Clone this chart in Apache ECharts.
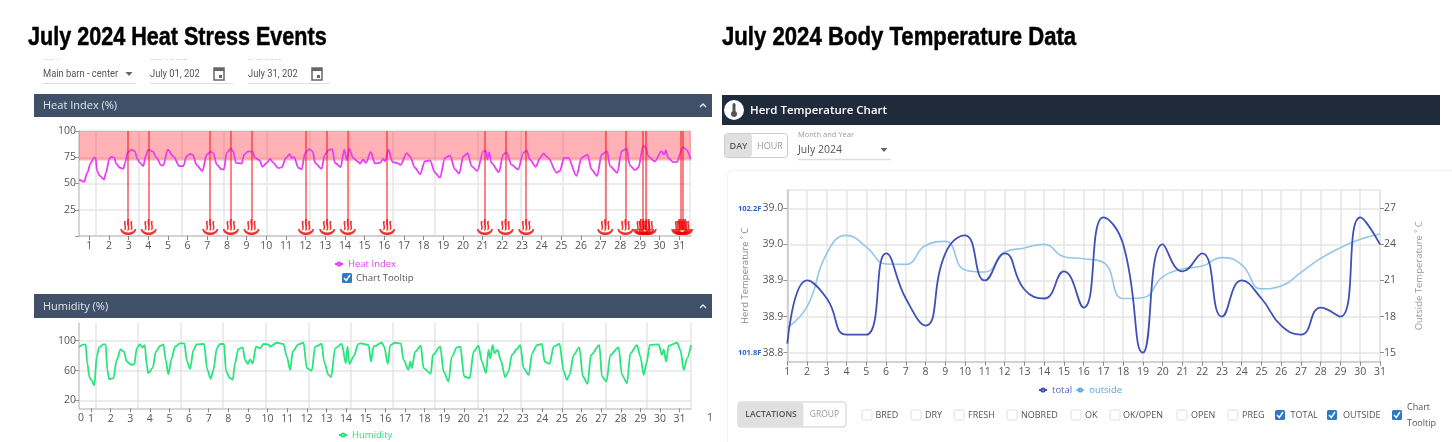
<!DOCTYPE html>
<html><head><meta charset="utf-8">
<style>html,body{margin:0;padding:0;background:#fff}#c{width:1452px;height:442px}</style>
<script src="https://cdn.jsdelivr.net/npm/echarts@6/dist/echarts.min.js"></script>
</head><body><div id="c"></div>
<script>
const dayTicks = Array.from({length:31},(_,i)=>i+1);
const heatDays = [0.48,0.73,0.90,1.07,1.24,1.32,1.39,1.54,1.75,1.85,2.02,2.14,2.27,2.36,2.56,2.73,2.82,2.95,3.15,3.32,3.44,3.58,3.75,3.86,4.0,4.22,4.43,4.65,4.76,4.99,5.27,5.58,5.78,5.95,6.12,6.26,6.46,6.75,6.97,7.17,7.31,7.48,7.73,7.85,7.98,8.2,8.32,8.46,8.75,8.87,9.08,9.29,9.43,9.65,9.81,10.02,10.19,10.36,10.61,10.78,11.0,11.2,11.29,11.41,11.63,11.8,11.97,12.19,12.36,12.48,12.81,12.98,13.15,13.36,13.49,13.78,13.97,14.09,14.22,14.42,14.68,14.76,14.93,15.07,15.31,15.53,15.78,15.95,16.04,16.21,16.43,16.63,16.83,17.14,17.31,17.56,17.82,18.07,18.33,18.58,18.83,19.09,19.34,19.6,19.81,20.02,20.24,20.44,20.73,21.03,21.17,21.25,21.34,21.45,21.83,22.05,22.22,22.47,22.81,23.07,23.24,23.41,23.71,23.92,24.09,24.34,24.76,24.93,25.14,25.36,25.78,26.03,26.34,26.54,26.83,27.05,27.34,27.48,27.85,28.07,28.33,28.49,28.75,28.92,29.17,29.31,29.43,29.76,30.1,30.22,30.32,30.44,30.69,30.86,31.2,31.34,31.58];
const heatValues = [53.8,51.6,60.3,69.7,74.4,74.7,61.9,57.2,53.8,60.3,73.8,75.3,74.7,69,65,64,69.7,79.7,82.2,80.6,73.4,69.7,66.6,76,82.2,80.6,74.4,67.5,67.2,82.2,76,66.6,66.6,76,78,77.5,67.5,61.9,77.5,80.3,79,68,63.4,63.4,79,83.4,80.6,69.7,69,77.5,80.6,80.3,74.4,72.2,66,69.7,73.4,69.7,64.7,65.3,74.4,78,74.4,75.3,65,63.4,79,82.8,80.6,69.7,64,77.5,81.6,82.8,69.7,65.6,82.2,72.2,83.4,74.4,70.6,69,72.8,69.7,80,69,69.7,73.4,71.2,82.2,70.3,69.7,67.8,79,75.9,65,59,71.2,71.9,60.3,55.6,74.4,76.6,63.4,59.4,75.9,78.8,66.6,61.9,80.6,81.2,72.8,79.7,69.7,60.9,77.5,79.7,68,63.4,79,81.6,72.8,65.9,74.4,78.4,74.4,60.3,61.9,74.4,74.4,57.2,74.4,77.5,63.4,57.2,77.5,80.6,66.6,60.3,80.6,83.1,67.2,62.8,65,85.9,83.8,75.9,71.2,80.6,77.5,81.6,74.4,70.3,70.3,84.7,82.8,73.4];
const heatEventDays = [2.98,4.02,7.15,8.2,9.25,12.02,13.10,14.15,16.15,21.12,22.17,23.22,27.24,28.27,29.16,29.32,31.09,31.2];
const heatExtraFlames = [29.05,29.45,31.0,31.3];
const heatVerticals = [1.34,3.49,5.69,7.84,10.02,12.19,14.26,16.43,18.58,20.73,22.92,25.1,27.22,29.34,31.55];
const heatBand = [72,100];
const heatTicks = [0,25,50,75,100];

const humidDays = [0.39,0.52,0.73,0.81,0.92,1.03,1.17,1.29,1.42,1.63,1.75,1.83,1.93,2.14,2.31,2.51,2.68,2.82,3.07,3.21,3.33,3.5,3.62,3.74,3.84,3.92,4.14,4.31,4.52,4.69,4.81,4.94,5.11,5.28,5.54,5.76,5.88,6.05,6.22,6.39,6.76,6.93,7.1,7.24,7.41,7.58,7.78,7.88,8.09,8.22,8.34,8.51,8.73,8.85,8.99,9.11,9.24,9.41,9.62,9.79,10.04,10.13,10.47,10.81,10.98,11.15,11.28,11.57,11.83,12.0,12.25,12.42,12.76,12.88,13.1,13.24,13.44,13.78,13.99,14.07,14.17,14.38,14.63,14.72,15.15,15.27,15.4,15.82,15.94,16.13,16.25,16.5,16.79,16.93,17.18,17.27,17.35,17.52,17.81,17.95,18.32,18.42,18.8,18.97,19.22,19.39,19.65,19.82,20.02,20.3,20.5,20.75,20.92,21.13,21.26,21.35,21.47,21.57,21.72,21.89,22.11,22.28,22.45,22.71,22.88,23.05,23.31,23.48,23.73,23.98,24.12,24.37,24.58,24.88,25.09,25.26,25.39,25.6,25.89,26.07,26.31,26.48,26.91,27.04,27.27,27.47,27.89,28.06,28.32,28.49,28.83,29.0,29.17,29.31,29.48,29.93,30.1,30.19,30.31,30.44,30.87,31.04,31.21,31.38,31.58];
const humidValues = [91.1,94.2,95.1,69.8,51.1,46.7,40,78.7,91.1,95.1,95.1,60.9,48.4,49.8,74.2,88.4,85.3,72,67.6,68.9,89.8,95.1,91.1,94.2,67.6,56.4,63.1,85.3,92.9,95.1,74.2,55.1,76.4,92,96.4,96.4,73.3,62.2,87.6,95.1,95.6,60.9,48.9,60.9,89.8,95.6,95.6,58.7,49.8,47.6,69.8,88.9,91.1,74.2,68.9,75.1,69.8,92,89.8,95.6,95.1,92,97.3,95.6,78.7,60.9,85.3,95.1,97.3,63.1,59.6,92,95.6,72,54.2,51.1,89.8,95.6,69.8,92,68.9,78.7,95.6,96.4,94.2,72,92,97.3,92,68.9,94.2,97.3,96.4,74.2,60.9,72,63.1,85.3,93.3,63.1,55.6,80.9,92,58.7,45.3,78.7,91.1,92,52,49.8,85.3,93.3,72,56.4,87.6,76.4,94.2,83.1,87.6,73.3,51.1,58.7,80.9,88.9,94.2,63.1,54.2,83.1,94.2,95.6,72,68.9,92,95.6,58.7,47.6,54.2,80.9,91.1,52,42.2,80.9,94.2,52,45.3,80.9,91.1,54.2,43.1,83.1,94.2,78.7,54.2,69.8,94.2,95.1,80.9,88.4,72,93.3,97.3,87.6,60.9,76.4,94.2];
const humidVerticals = [1.24,3.36,5.56,7.71,9.92,12.08,14.24,16.37,18.54,20.70,22.89,25.05,27.21,29.34,31.55];
const humidTicks = [20,60,100];

const herdTotal = [38.8125,38.9,38.875,38.825,38.825,38.9375,38.875,38.8375,38.9375,38.9625,38.9,38.9375,38.8875,38.875,38.9125,38.8625,38.9875,38.95,38.8,38.95,38.9125,38.9375,38.85,38.9,38.875,38.8375,38.825,38.8625,38.85,38.9875,38.95];
const herdOutside = [17.08,18.82,23.25,24.75,23.8,22.37,22.34,23.9,24.25,21.87,21.7,23.34,23.7,24.0,22.98,22.8,22.5,19.5,19.57,21.3,21.95,22.2,22.9,22.3,20.3,20.54,21.68,22.84,23.73,24.42,24.86];
const herdLeftTicks = [38.8,38.85,38.9,38.95,39.0];
const herdLeftLabels = ['38.8','38.9','38.9','39.0','39.0'];
const herdRightTicks = [15,18,21,24,27];

const FONT = '"Open Sans"';
const GRID = '#e6e6e6', AXIS = '#c9c9c9', LABEL = '#555';
const FLAME = 'path://M0 15C1 27 23 27 24 15L21.6 15C20 21.8 4 21.8 2.4 15ZM6.2 3C4 7.5 8 10 5.8 17L8.3 15.5C10 10.5 6.8 8 8.6 3ZM11 0C8.6 6 12.8 10 10.6 18L13.2 16.5C15 10.5 11.6 6 13.6 0ZM15.8 3C13.6 7.5 17.6 10 15.4 17L17.9 15.5C19.6 10.5 16.4 8 18.2 3Z';

const zip = (a,b)=>a.map((v,i)=>[v,b[i]]);
const dayAxisLabel = {fontFamily:FONT,fontSize:10.5,color:LABEL,margin:5};

function dayAxis(gridIndex,min,max){
  return {type:'value',gridIndex,min,max,position:'bottom',
    axisLine:{show:true,onZero:false,lineStyle:{color:AXIS,width:1.5}},
    axisTick:{show:true,length:4,customValues:dayTicks,lineStyle:{color:'#888'}},
    axisLabel:Object.assign({customValues:dayTicks,formatter:v=>String(v)},dayAxisLabel),
    splitLine:{show:false}};
}
function verticalAxis(gridIndex,min,max,vals){
  return {type:'value',gridIndex,min,max,position:'bottom',
    axisLine:{show:false},axisLabel:{show:false},
    axisTick:{show:false,customValues:vals},
    splitLine:{show:true,lineStyle:{color:GRID,width:1.5}}};
}
const yCommon = {
  axisLine:{show:true,onZero:false,lineStyle:{color:AXIS,width:1.5}},
  axisTick:{show:true,length:4,lineStyle:{color:'#999'}},
  splitLine:{show:true,lineStyle:{color:GRID,width:1.5}}
};

/* ---------- page furniture (not chart marks) ---------- */
const g = [];
const txt = (x,y,s,o={})=>g.push({type:'text',x,y,z:o.z||20,silent:true,scaleX:o.sx||1,style:{text:s,fill:o.c||'#555',stroke:o.st||null,lineWidth:o.st?0.5:0,font:`${o.w||'normal'} ${o.s||11}px ${o.f||FONT}`,textAlign:o.a||'left',textVerticalAlign:'middle'}});
const rect = (x,y,w,h,fill,o={})=>g.push({type:'rect',z:o.z===undefined?10:o.z,silent:true,shape:{x,y,width:w,height:h,r:o.r||0},style:{fill,stroke:o.stroke||null,lineWidth:o.lw||1}});
const line = (a,b,c,d,col,lw=1)=>g.push({type:'line',z:10,silent:true,shape:{x1:a,y1:b,x2:c,y2:d},style:{stroke:col,lineWidth:lw}});
const poly = (pts,col,lw=1.3,z=21)=>g.push({type:'polyline',z,silent:true,shape:{points:pts},style:{stroke:col,lineWidth:lw,fill:null}});
const tri = (x,y,col='#666')=>g.push({type:'polygon',z:20,silent:true,shape:{points:[[x-3.5,y-2],[x+3.5,y-2],[x,y+2]]},style:{fill:col}});
const chevron = (x,y)=>poly([[x-3,y+2],[x,y-1],[x+3,y+2]],'#e8edf3',1.3);
const cal = (x,y)=>{rect(x,y-6,10,12,'#fff',{stroke:'#666',lw:1.5,z:20});rect(x,y-6,10,3,'#666',{z:21});rect(x+5,y+1,3,3,'#666',{z:21});};
const check = (x,y,on,size=10)=>{
  if(on){rect(x,y-size/2,size,size,'#2f78c4',{r:1.5,z:20});poly([[x+2,y],[x+4.3,y+2.5],[x+8,y-3]],'#fff',1.4);}
  else rect(x,y-size/2,size,size,'#fff',{stroke:'#dbe0e6',r:1.5,z:20});
};

const TITLE = {w:'bold',s:26,c:'#000',f:'"Liberation Sans"',st:'#000'};
txt(28,38,'July 2024 Heat Stress Events',Object.assign({sx:0.83},TITLE));
txt(722,38,'July 2024 Body Temperature Data',Object.assign({sx:0.852},TITLE));

txt(43,58,'Barn',{s:8,c:'#888'});txt(150,58,'Start Date',{s:8,c:'#888'});txt(248,58,'End Date',{s:8,c:'#888'});
rect(30,50,320,9.5,'#fff',{z:22});
const R = {s:10.5,f:'Roboto',sx:0.89};
txt(43,74,'Main barn - center',R);tri(129,74);
txt(150,74,'July 01, 202',R);cal(214,74);
txt(248,74,'July 31, 202',R);cal(312,74);
line(43,83.5,136,83.5,'#ddd');line(150,83.5,233,83.5,'#ddd');line(248,83.5,330,83.5,'#ddd');

rect(34,94,678,23,'#3f5068');txt(43,106,'Heat Index (%)',{c:'#dfe5ec',s:11});chevron(703,105);
rect(34,294,678,24,'#3f5068');txt(43,307,'Humidity (%)',{c:'#dfe5ec',s:11});chevron(703,306);
check(342,278,true);txt(356,278,'Chart Tooltip',{s:9.5});
txt(78,418,'0',{s:10.5});txt(707,418,'1',{s:10.5});

rect(722,95,718,30,'#1f2a3a');
g.push({type:'circle',z:20,silent:true,shape:{cx:734,cy:110,r:10},style:{fill:'#fff'}});
rect(732.5,103,3,10,'#555',{r:1.5,z:21});
g.push({type:'circle',z:21,silent:true,shape:{cx:734,cy:114,r:3},style:{fill:'#555'}});
txt(750,111,'Herd Temperature Chart',{c:'#fff',s:11.5,w:'600'});

rect(724.5,133.5,63,24,'#fff',{stroke:'#ccc',r:3,z:19});
rect(725,134,27,23,'#e0e0e0',{r:3,z:20});
txt(738.5,146,'DAY',{a:'center',s:9,w:'600',c:'#555'});txt(770,146,'HOUR',{a:'center',s:9,c:'#999'});
txt(798,134.5,'Month and Year',{s:7.5,c:'#999'});
txt(798,150,'July 2024',{s:10.5});tri(884,150);line(798,159.5,891,159.5,'#ddd',1.5);
rect(727.5,170.5,760,300,'rgba(255,255,255,0)',{stroke:'#f0f2f6',r:6,z:0});
txt(738,208.5,'102.2F',{c:'#2468c8',w:'bold',s:7.5});
txt(738,352.5,'101.8F',{c:'#2468c8',w:'bold',s:7.5});

rect(738,402,108,25,'#fff',{stroke:'#ccc',r:3,z:19});
rect(738.5,402.5,65,24,'#e0e0e0',{r:3,z:20});
txt(771,415,'LACTATIONS',{a:'center',s:8.5,w:'600',c:'#555'});txt(824.5,415,'GROUP',{a:'center',s:8.5,c:'#999'});
const filterBoxes = [[862,875.5,'BRED',0],[911,925,'DRY',0],[954,968,'FRESH',0],[1007,1021,'NOBRED',0],[1071,1085,'OK',0],[1110,1123,'OK/OPEN',0],[1177,1191,'OPEN',0],[1228,1242,'PREG',0],[1275,1290.5,'TOTAL',1],[1327,1343,'OUTSIDE',1]];
filterBoxes.forEach(([bx,tx,s,on])=>{check(bx,415,!!on);txt(tx,415,s,{s:9});});
check(1392,415,true);txt(1407,407,'Chart',{s:9});txt(1407,423,'Tooltip',{s:9});

/* ---------- chart ---------- */
const LEG = {itemWidth:8,itemHeight:4};
const option = {
  animation:false,
  backgroundColor:'#fff',
  graphic:g,
  textStyle:{fontFamily:FONT},
  legend:[
    Object.assign({data:['Heat Index'],left:329,top:254,textStyle:{color:'#e93cf5',fontSize:9.5,fontFamily:FONT}},LEG),
    Object.assign({data:['Humidity'],left:333,top:425,textStyle:{color:'#2fe07f',fontSize:9.5,fontFamily:FONT}},LEG),
    Object.assign({data:[{name:'total',textStyle:{color:'#5766c0'}},{name:'outside',textStyle:{color:'#5ba6dc'}}],left:1033,top:380,itemGap:3,textStyle:{fontSize:9.5,fontFamily:FONT}},LEG)
  ],
  grid:[
    {left:79,right:761,top:131,height:105},
    {left:79,right:761,top:323,height:85.3},
    {left:787.3,right:72,top:190,height:171.7,show:true,borderColor:GRID,borderWidth:1.5}
  ],
  xAxis:[
    dayAxis(0,0.476,31.6),
    verticalAxis(0,0.476,31.6,heatVerticals),
    dayAxis(1,0.388,31.58),
    verticalAxis(1,0.388,31.58,humidVerticals),
    {type:'value',gridIndex:2,min:1,max:31,interval:1,
      axisLine:{show:true,onZero:false,lineStyle:{color:AXIS,width:1.5}},
      axisTick:{show:true,length:4,lineStyle:{color:'#888'}},
      axisLabel:Object.assign({showMinLabel:true,showMaxLabel:true},dayAxisLabel),
      splitLine:{show:true,lineStyle:{color:GRID,width:1.5}}}
  ],
  yAxis:[
    Object.assign({},yCommon,{type:'value',gridIndex:0,min:0,max:100,
      axisTick:{show:true,length:4,customValues:heatTicks,lineStyle:{color:'#999'}},
      axisLabel:{customValues:heatTicks,formatter:v=>v===0?'':String(v),fontFamily:FONT,fontSize:10.5,color:LABEL,margin:3}}),
    Object.assign({},yCommon,{type:'value',gridIndex:1,min:9.3,max:123.8,
      axisTick:{show:true,length:4,customValues:humidTicks,lineStyle:{color:'#999'}},
      axisLabel:{customValues:humidTicks,formatter:v=>String(v),fontFamily:FONT,fontSize:10.5,color:LABEL,margin:3}}),
    Object.assign({},yCommon,{type:'value',gridIndex:2,min:38.7875,max:39.0253,
      name:'Herd Temperature ˚ C',nameLocation:'middle',nameGap:37,nameTextStyle:{color:'#888',fontSize:9.5,fontFamily:FONT},
      axisTick:{show:true,length:4,customValues:herdLeftTicks,lineStyle:{color:'#999'}},
      axisLabel:{customValues:herdLeftTicks,formatter:v=>herdLeftLabels[herdLeftTicks.findIndex(t=>Math.abs(t-v)<1e-6)],fontFamily:FONT,fontSize:10.5,color:LABEL,margin:4}}),
    Object.assign({},yCommon,{type:'value',gridIndex:2,position:'right',min:14.25,max:28.52,
      name:'Outside Temperature ˚ C',nameLocation:'middle',nameGap:34,nameTextStyle:{color:'#999',fontSize:9.5,fontFamily:FONT},
      axisLine:{show:true,onZero:false,lineStyle:{color:GRID,width:1.5}},
      axisTick:{show:true,length:4,customValues:herdRightTicks,lineStyle:{color:'#888'}},
      axisLabel:{customValues:herdRightTicks,formatter:v=>String(v),fontFamily:FONT,fontSize:10.5,color:LABEL,margin:4},
      splitLine:{show:false}})
  ],
  series:[
    {name:'Vertical guides heat',type:'line',xAxisIndex:1,yAxisIndex:0,data:[],silent:true},
    {name:'Vertical guides humid',type:'line',xAxisIndex:3,yAxisIndex:1,data:[],silent:true},
    {name:'Heat Index',type:'line',xAxisIndex:0,yAxisIndex:0,z:4,data:zip(heatDays,heatValues),smooth:0.3,smoothMonotone:'x',showSymbol:false,symbol:'emptyCircle',symbolSize:4,
      lineStyle:{color:'#e93cf5',width:1.8},itemStyle:{color:'#e93cf5'},
      markArea:{silent:true,z:1,itemStyle:{color:'rgba(255,60,70,0.4)'},data:[[{xAxis:0.476,yAxis:heatBand[0]},{xAxis:31.6,yAxis:heatBand[1]}]]}},
    {name:'Events',type:'scatter',xAxisIndex:0,yAxisIndex:0,z:5,symbol:FLAME,symbolSize:[16,16],itemStyle:{color:'#f00000'},
      data:heatEventDays.concat(heatExtraFlames).map(d=>[d,8.5]),silent:true,
      markLine:{silent:true,symbol:'none',z:6,label:{show:false},lineStyle:{color:'rgba(245,30,40,0.55)',type:'solid',width:2},
        data:heatEventDays.map(d=>[{coord:[d,100]},{coord:[d,10]}])}},
    {name:'Humidity',type:'line',xAxisIndex:2,yAxisIndex:1,data:zip(humidDays,humidValues),smooth:0.3,smoothMonotone:'x',showSymbol:false,symbol:'emptyCircle',symbolSize:4,
      lineStyle:{color:'#25e57c',width:1.8},itemStyle:{color:'#25e57c'}},
    {name:'outside',type:'line',xAxisIndex:4,yAxisIndex:3,z:3,data:zip(dayTicks,herdOutside),smooth:0.5,showSymbol:false,symbol:'emptyCircle',symbolSize:4,
      lineStyle:{color:'#94c6e8',width:1.6},itemStyle:{color:'#5ba6dc'}},
    {name:'total',type:'line',xAxisIndex:4,yAxisIndex:2,z:4,data:zip(dayTicks,herdTotal),smooth:0.5,showSymbol:false,symbol:'emptyCircle',symbolSize:4,
      lineStyle:{color:'#3f51b5',width:1.8},itemStyle:{color:'#3f51b5'}}
  ]
};
echarts.init(document.getElementById('c'),null,{renderer:'canvas'}).setOption(option);
</script></body></html>
